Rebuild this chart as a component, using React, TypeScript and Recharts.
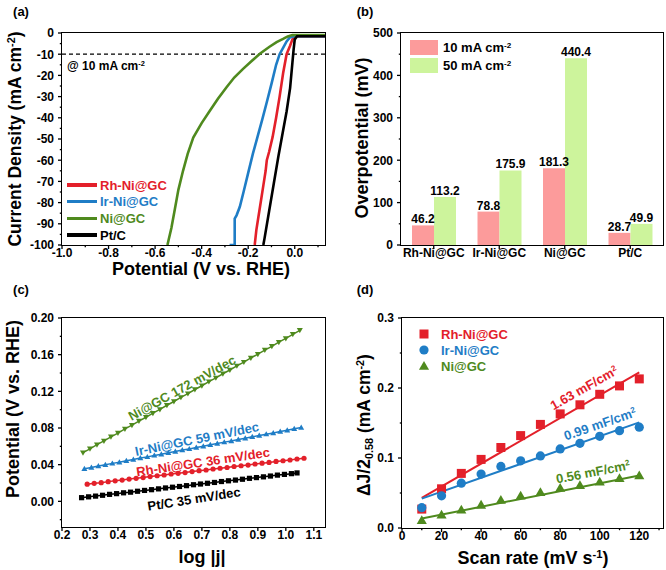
import React from 'react';
import {
  LineChart, Line, XAxis, YAxis, ReferenceLine,
  BarChart, Bar, LabelList, ScatterChart, Scatter,
} from 'recharts';

const FONT = '"Liberation Sans", Arial, Helvetica, sans-serif';
const RED = '#e3202a';
const BLUE = '#1f7dc6';
const GREEN = '#4f8a1e';
const BLACK = '#000000';
const PINK = '#fc9b9b';
const LIME = '#cdf49c';

// (a) polarization curves: potential (V vs. RHE) / current density (mA cm-2)
const lsvRhV = [0.13, 0.0, -0.01, -0.02, -0.035, -0.05, -0.065, -0.08, -0.095, -0.11, -0.12, -0.125, -0.135, -0.145, -0.155, -0.165, -0.172];
const lsvRhJ = [-1.5, -1.5, -3, -6, -10, -19, -30, -40, -49, -56, -60, -65, -72, -79, -86, -93, -100];
const lsvIrV = [0.13, 0.0, -0.02, -0.035, -0.05, -0.065, -0.08, -0.1, -0.121, -0.14, -0.16, -0.18, -0.2, -0.22, -0.236, -0.25, -0.258, -0.258, -0.28];
const lsvIrJ = [-1.5, -1.5, -2, -4, -7, -10, -15, -24, -33, -41, -49, -57, -66, -75, -82, -86, -87.5, -100, -100];
const lsvNiV = [0.13, -0.01, -0.03, -0.05, -0.078, -0.11, -0.15, -0.185, -0.222, -0.26, -0.293, -0.33, -0.364, -0.4, -0.436, -0.46, -0.48, -0.5, -0.515, -0.53, -0.547];
const lsvNiJ = [-1.0, -1.0, -1.6, -2.8, -4.3, -6.6, -9.8, -13.2, -16.9, -21, -25.6, -31, -36.6, -42.5, -49.3, -57, -65, -74, -83, -92, -100];
const lsvPtV = [0.13, 0.01, 0.0, -0.005, -0.01, -0.02, -0.035, -0.05, -0.07, -0.09, -0.11, -0.13, -0.135];
const lsvPtJ = [-1.5, -1.5, -3, -8, -14, -26, -37, -46, -58, -71, -84, -97, -100];
const aXMajor = [-1.0, -0.8, -0.6, -0.4, -0.2, 0.0];
const aXMinor = [-0.9, -0.7, -0.5, -0.3, -0.1, 0.1];
const aYMajor = [0, -10, -20, -30, -40, -50, -60, -70, -80, -90, -100];
const aYMinor = [-5, -15, -25, -35, -45, -55, -65, -75, -85, -95];

// (b) overpotentials (mV)
const catalysts = ['Rh-Ni@GC', 'Ir-Ni@GC', 'Ni@GC', 'Pt/C'];
const eta10 = [46.2, 78.8, 181.3, 28.7];
const eta50 = [113.2, 175.9, 440.4, 49.9];
const bYMajor = [0, 100, 200, 300, 400, 500];
const bYMinor = [50, 150, 250, 350, 450];

// (c) Tafel plots: log|j| / potential (V)
const tafPtX = [0.27, 0.295, 0.32, 0.345, 0.37, 0.395, 0.42, 0.445, 0.47, 0.495, 0.52, 0.545, 0.57, 0.595, 0.62, 0.645, 0.67, 0.695, 0.72, 0.745, 0.77, 0.795, 0.82, 0.845, 0.87, 0.895, 0.92, 0.945, 0.97, 0.995, 1.02, 1.04];
const tafPtY = [0.0040, 0.0049, 0.0057, 0.0066, 0.0076, 0.0084, 0.0093, 0.0100, 0.0110, 0.0119, 0.0127, 0.0136, 0.0146, 0.0154, 0.0162, 0.0171, 0.0181, 0.0189, 0.0197, 0.0206, 0.0216, 0.0224, 0.0232, 0.0241, 0.0251, 0.0259, 0.0267, 0.0276, 0.0286, 0.0294, 0.0302, 0.0310];
const tafRhX = [0.29, 0.315, 0.34, 0.365, 0.39, 0.415, 0.44, 0.465, 0.49, 0.515, 0.54, 0.565, 0.59, 0.615, 0.64, 0.665, 0.69, 0.715, 0.74, 0.765, 0.79, 0.815, 0.84, 0.865, 0.89, 0.915, 0.94, 0.965, 0.99, 1.015, 1.04, 1.065];
const tafRhY = [0.0187, 0.0196, 0.0204, 0.0215, 0.0224, 0.0232, 0.0243, 0.0251, 0.0259, 0.0270, 0.0279, 0.0287, 0.0298, 0.0306, 0.0314, 0.0325, 0.0334, 0.0342, 0.0353, 0.0361, 0.0369, 0.0380, 0.0388, 0.0396, 0.0407, 0.0416, 0.0424, 0.0435, 0.0443, 0.0451, 0.0462, 0.0470];
const tafIrX = [0.28, 0.305, 0.33, 0.355, 0.38, 0.405, 0.43, 0.455, 0.48, 0.505, 0.53, 0.555, 0.58, 0.605, 0.63, 0.655, 0.68, 0.705, 0.73, 0.755, 0.78, 0.805, 0.83, 0.855, 0.88, 0.905, 0.93, 0.955, 0.98, 1.005, 1.03, 1.055];
const tafIrY = [0.0355, 0.0369, 0.0385, 0.0398, 0.0414, 0.0427, 0.0443, 0.0456, 0.0472, 0.0485, 0.0501, 0.0514, 0.0530, 0.0543, 0.0559, 0.0572, 0.0588, 0.0601, 0.0617, 0.0630, 0.0646, 0.0659, 0.0675, 0.0688, 0.0704, 0.0717, 0.0733, 0.0746, 0.0762, 0.0775, 0.0791, 0.0805];
const tafNiX = [0.275, 0.3, 0.325, 0.35, 0.375, 0.4, 0.425, 0.45, 0.475, 0.5, 0.525, 0.55, 0.575, 0.6, 0.625, 0.65, 0.675, 0.7, 0.725, 0.75, 0.775, 0.8, 0.825, 0.85, 0.875, 0.9, 0.925, 0.95, 0.975, 1.0, 1.025, 1.05];
const tafNiY = [0.0531, 0.0573, 0.0618, 0.0659, 0.0704, 0.0745, 0.0790, 0.0831, 0.0876, 0.0917, 0.0962, 0.1003, 0.1048, 0.1089, 0.1134, 0.1175, 0.1220, 0.1261, 0.1306, 0.1347, 0.1392, 0.1433, 0.1478, 0.1519, 0.1564, 0.1605, 0.1650, 0.1691, 0.1736, 0.1777, 0.1822, 0.1866];
const cXMajor = [0.2, 0.3, 0.4, 0.5, 0.6, 0.7, 0.8, 0.9, 1.0, 1.1];
const cYMajor = [0.0, 0.04, 0.08, 0.12, 0.16, 0.2];
const cYMinor = [-0.02, 0.02, 0.06, 0.1, 0.14, 0.18];

// (d) double-layer capacitance: scan rate (mV/s) / half current difference (mA cm-2)
const scanRate = [10, 20, 30, 40, 50, 60, 70, 80, 90, 100, 110, 120];
const cdlRh = [0.027, 0.056, 0.078, 0.098, 0.115, 0.132, 0.148, 0.163, 0.176, 0.191, 0.203, 0.213];
const cdlIr = [0.029, 0.046, 0.064, 0.077, 0.088, 0.096, 0.103, 0.113, 0.121, 0.131, 0.139, 0.144];
const cdlNi = [0.011, 0.019, 0.026, 0.033, 0.040, 0.046, 0.051, 0.057, 0.061, 0.066, 0.071, 0.075];
// linear fits, slope = Cdl (1.63 / 0.99 / 0.56 mF cm-2)
const fitRh = [[10, 0.0430], [120, 0.2223]];
const fitIr = [[10, 0.0420], [120, 0.1509]];
const fitNi = [[10, 0.0135], [120, 0.0751]];
const dXMajor = [0, 20, 40, 60, 80, 100, 120];
const dXMinor = [10, 30, 50, 70, 90, 110, 130];
const dYMajor = [0, 0.1, 0.2, 0.3];
const dYMinor = [0.05, 0.15, 0.25];

const pts = (xs: number[], ys: number[]) => xs.map((x, i) => ({ x, y: ys[i] }));

const W = 333;
const H = 285;
const TS = 4;   // major tick
const MS = 2.2; // minor tick
const TM = 4;   // tick to label gap
const tickStyle: React.CSSProperties = { fontFamily: FONT, fontSize: 12, fontWeight: 700, fill: '#000' };

const isIn = (list: number[], v: number) => list.some((m) => Math.abs(m - v) < 1e-9);

const leftTick = (majors: number[], fmt: (v: number) => string) => (p: any) => {
  const v = Number(p.payload.value);
  const major = isIn(majors, v);
  const x0 = p.x + TS + TM;
  return (
    <g>
      <line x1={x0} x2={x0 - (major ? TS : MS)} y1={p.y} y2={p.y} stroke="#000" strokeWidth={1.3} />
      {major && (
        <text x={p.x} y={p.y} dy="0.36em" textAnchor="end" style={tickStyle}>{fmt(v)}</text>
      )}
    </g>
  );
};

const bottomTick = (majors: number[] | null, fmt: (v: any) => string) => (p: any) => {
  const v = p.payload.value;
  const major = majors === null || isIn(majors, Number(v));
  const y0 = p.y - TS - TM;
  return (
    <g>
      <line x1={p.x} x2={p.x} y1={y0} y2={y0 + (major ? TS : MS)} stroke="#000" strokeWidth={1.3} />
      {major && (
        <text x={p.x} y={y0 + 12} textAnchor="middle" style={tickStyle}>{fmt(v)}</text>
      )}
    </g>
  );
};

const Frame = ({ l, t, r, b }: { l: number; t: number; r: number; b: number }) => (
  <div
    style={{
      position: 'absolute', left: l - 0.7, top: t - 0.7, width: r - l + 1.4, height: b - t + 1.4,
      border: '1.4px solid #000', boxSizing: 'border-box', pointerEvents: 'none',
    }}
  />
);

const Txt = ({ x, y, angle = 0, color = '#000', size = 13, weight = 700, anchor = 'center', children }: any) => (
  <div
    style={{
      position: 'absolute', left: x, top: y,
      transform: `translate(${anchor === 'left' ? '0' : '-50%'}, -50%) rotate(${angle}deg)`,
      color, fontFamily: FONT, fontSize: size, fontWeight: weight, whiteSpace: 'nowrap', lineHeight: 1,
    }}
  >
    {children}
  </div>
);

const Sup = ({ children }: any) => (
  <span style={{ fontSize: '0.62em', verticalAlign: '0.55em' }}>{children}</span>
);
const Sub = ({ children }: any) => (
  <span style={{ fontSize: '0.62em', verticalAlign: '-0.3em' }}>{children}</span>
);

const panelBox = (left: number, top: number): React.CSSProperties => ({
  position: 'absolute', left, top, width: W, height: H,
});

function PanelA() {
  const plot = { l: 62, t: 33, r: 325, b: 245 };
  const series = [
    { name: 'Rh-Ni@GC', color: RED, data: pts(lsvRhV, lsvRhJ) },
    { name: 'Ir-Ni@GC', color: BLUE, data: pts(lsvIrV, lsvIrJ) },
    { name: 'Ni@GC', color: GREEN, data: pts(lsvNiV, lsvNiJ) },
    { name: 'Pt/C', color: BLACK, data: pts(lsvPtV, lsvPtJ) },
  ];
  return (
    <div style={panelBox(0, 0)}>
      <LineChart width={W} height={H} margin={{ top: plot.t, right: W - plot.r, bottom: H - plot.b - 22, left: plot.l - 40 }}>
        <XAxis
          dataKey="x" type="number" domain={[-1, 0.13]} allowDataOverflow
          ticks={[...aXMajor, ...aXMinor]} interval={0} height={22}
          axisLine={false} tickLine={false} tickSize={TS} tickMargin={TM}
          tick={bottomTick(aXMajor, (v) => Number(v).toFixed(1))}
        />
        <YAxis
          dataKey="y" type="number" domain={[-100, 0]} allowDataOverflow
          ticks={[...aYMajor, ...aYMinor]} interval={0} width={40}
          axisLine={false} tickLine={false} tickSize={TS} tickMargin={TM}
          tick={leftTick(aYMajor, (v) => String(v))}
        />
        <ReferenceLine y={-10} stroke="#000" strokeWidth={1.2} strokeDasharray="4 3" />
        {series.map((s) => (
          <Line
            key={s.name} data={s.data} dataKey="y" name={s.name} type="linear"
            stroke={s.color} strokeWidth={2.6} dot={false} isAnimationActive={false}
          />
        ))}
      </LineChart>
      <Frame {...plot} />
      <Txt x={67} y={66} size={12} anchor="left">@ 10 mA cm<Sup>-2</Sup></Txt>
      {series.map((s, i) => (
        <div key={s.name} style={{ position: 'absolute', left: 67, top: 185 + i * 16.7 - 8, height: 16, display: 'flex', alignItems: 'center' }}>
          <div style={{ width: 30, height: 3.5, background: s.color }} />
          <span style={{ marginLeft: 3, color: s.color, fontFamily: FONT, fontWeight: 700, fontSize: 13 }}>{s.name}</span>
        </div>
      ))}
      <Txt x={21} y={11} size={13}>(a)</Txt>
      <Txt x={15} y={139} size={17.5} angle={-90}>Current Density (mA cm<Sup>-2</Sup>)</Txt>
      <Txt x={201} y={269} size={18}>Potential (V vs. RHE)</Txt>
    </div>
  );
}

function PanelB() {
  const plot = { l: 68, t: 33, r: 330, b: 245 };
  const data = catalysts.map((name, i) => ({ name, eta10: eta10[i], eta50: eta50[i] }));
  const lbl = { fontFamily: FONT, fontSize: 12, fontWeight: 700, fill: '#000' };
  return (
    <div style={panelBox(333, 0)}>
      <BarChart
        width={W} height={H} data={data} barSize={22} barGap={0}
        margin={{ top: plot.t, right: W - plot.r, bottom: H - plot.b - 22, left: plot.l - 40 }}
      >
        <XAxis
          dataKey="name" height={22} axisLine={false} tickLine={false} interval={0}
          tickSize={TS} tickMargin={TM} tick={bottomTick(null, (v) => String(v))}
        />
        <YAxis
          type="number" domain={[0, 500]} allowDataOverflow ticks={[...bYMajor, ...bYMinor]} interval={0}
          width={40} axisLine={false} tickLine={false} tickSize={TS} tickMargin={TM}
          tick={leftTick(bYMajor, (v) => String(v))}
        />
        <Bar dataKey="eta10" fill={PINK} isAnimationActive={false}>
          <LabelList dataKey="eta10" position="top" offset={2} style={lbl} formatter={(v: any) => Number(v).toFixed(1)} />
        </Bar>
        <Bar dataKey="eta50" fill={LIME} isAnimationActive={false}>
          <LabelList dataKey="eta50" position="top" offset={2} style={lbl} formatter={(v: any) => Number(v).toFixed(1)} />
        </Bar>
      </BarChart>
      <Frame {...plot} />
      {[{ c: PINK, t: '10' }, { c: LIME, t: '50' }].map((e, i) => (
        <div key={e.t} style={{ position: 'absolute', left: 77, top: 40 + i * 18, height: 15, display: 'flex', alignItems: 'center' }}>
          <div style={{ width: 28, height: 15, background: e.c }} />
          <span style={{ marginLeft: 5, fontFamily: FONT, fontWeight: 700, fontSize: 13, color: '#000' }}>
            {e.t} mA cm<Sup>-2</Sup>
          </span>
        </div>
      ))}
      <Txt x={32} y={11} size={13}>(b)</Txt>
      <Txt x={29} y={138} size={18} angle={-90}>Overpotential (mV)</Txt>
    </div>
  );
}

const marker = (kind: string, color: string, r: number) => (p: any) => {
  const { cx, cy, index } = p;
  if (cx == null || cy == null) return <g key={index} />;
  if (kind === 'square') return <rect key={index} x={cx - r} y={cy - r} width={2 * r} height={2 * r} fill={color} />;
  if (kind === 'circle') return <circle key={index} cx={cx} cy={cy} r={r} fill={color} />;
  if (kind === 'up') return <polygon key={index} points={`${cx},${cy - r * 1.15} ${cx - r * 1.15},${cy + r * 0.85} ${cx + r * 1.15},${cy + r * 0.85}`} fill={color} />;
  return <polygon key={index} points={`${cx},${cy + r * 1.15} ${cx - r * 1.15},${cy - r * 0.85} ${cx + r * 1.15},${cy - r * 0.85}`} fill={color} />;
};

function PanelC() {
  const plot = { l: 62, t: 33, r: 325, b: 242 };
  const series = [
    { name: 'Pt/C', color: BLACK, kind: 'square', data: pts(tafPtX, tafPtY) },
    { name: 'Rh-Ni@GC', color: RED, kind: 'circle', data: pts(tafRhX, tafRhY) },
    { name: 'Ir-Ni@GC', color: BLUE, kind: 'up', data: pts(tafIrX, tafIrY) },
    { name: 'Ni@GC', color: GREEN, kind: 'down', data: pts(tafNiX, tafNiY) },
  ];
  return (
    <div style={panelBox(0, 285)}>
      <LineChart width={W} height={H} margin={{ top: plot.t, right: W - plot.r, bottom: H - plot.b - 22, left: plot.l - 40 }}>
        <XAxis
          dataKey="x" type="number" domain={[0.2, 1.14]} allowDataOverflow ticks={cXMajor} interval={0} height={22}
          axisLine={false} tickLine={false} tickSize={TS} tickMargin={TM}
          tick={bottomTick(cXMajor, (v) => Number(v).toFixed(1))}
        />
        <YAxis
          dataKey="y" type="number" domain={[-0.028, 0.2]} allowDataOverflow ticks={[...cYMajor, ...cYMinor]} interval={0}
          width={40} axisLine={false} tickLine={false} tickSize={TS} tickMargin={TM}
          tick={leftTick(cYMajor, (v) => Number(v).toFixed(2))}
        />
        {series.map((s) => (
          <Line
            key={s.name} data={s.data} dataKey="y" name={s.name} type="linear" stroke={s.color}
            strokeWidth={1.5} dot={marker(s.kind, s.color, 2.6)} isAnimationActive={false}
          />
        ))}
      </LineChart>
      <Frame {...plot} />
      <Txt x={182} y={103} angle={-29} color={GREEN}>Ni@GC 172 mV/dec</Txt>
      <Txt x={197} y={154} angle={-11.5} color={BLUE}>Ir-Ni@GC 59 mV/dec</Txt>
      <Txt x={203} y={177} angle={-8.5} color={RED}>Rh-Ni@GC 36 mV/dec</Txt>
      <Txt x={194} y={214} angle={-9} color={BLACK}>Pt/C 35 mV/dec</Txt>
      <Txt x={21} y={4} size={13}>(c)</Txt>
      <Txt x={13} y={124} size={18} angle={-90}>Potential (V vs. RHE)</Txt>
      <Txt x={202} y={272} size={18}>log |j|</Txt>
    </div>
  );
}

function PanelD() {
  const plot = { l: 69, t: 33, r: 330, b: 243 };
  const series = [
    { name: 'Rh-Ni@GC', color: RED, kind: 'square', r: 4.5, data: pts(scanRate, cdlRh), fit: fitRh },
    { name: 'Ir-Ni@GC', color: BLUE, kind: 'circle', r: 4.6, data: pts(scanRate, cdlIr), fit: fitIr },
    { name: 'Ni@GC', color: GREEN, kind: 'up', r: 4.4, data: pts(scanRate, cdlNi), fit: fitNi },
  ];
  return (
    <div style={panelBox(333, 285)}>
      <ScatterChart width={W} height={H} margin={{ top: plot.t, right: W - plot.r, bottom: H - plot.b - 22, left: plot.l - 40 }}>
        <XAxis
          dataKey="x" type="number" domain={[0, 132]} allowDataOverflow ticks={[...dXMajor, ...dXMinor]} interval={0}
          height={22} axisLine={false} tickLine={false} tickSize={TS} tickMargin={TM}
          tick={bottomTick(dXMajor, (v) => String(v))}
        />
        <YAxis
          dataKey="y" type="number" domain={[0, 0.3]} allowDataOverflow ticks={[...dYMajor, ...dYMinor]} interval={0}
          width={40} axisLine={false} tickLine={false} tickSize={TS} tickMargin={TM}
          tick={leftTick(dYMajor, (v) => Number(v).toFixed(1))}
        />
        {series.map((s) => (
          <Scatter
            key={s.name} name={s.name} data={s.data} fill={s.color}
            shape={marker(s.kind, s.color, s.r)} isAnimationActive={false}
          />
        ))}
        {series.map((s) => (
          <ReferenceLine
            key={`fit-${s.name}`} stroke={s.color} strokeWidth={2}
            segment={[{ x: s.fit[0][0], y: s.fit[0][1] }, { x: s.fit[1][0], y: s.fit[1][1] }]}
          />
        ))}
      </ScatterChart>
      <Frame {...plot} />
      {series.map((s, i) => (
        <div key={s.name} style={{ position: 'absolute', left: 85, top: 49 + i * 16 - 8, height: 16, display: 'flex', alignItems: 'center' }}>
          <svg width={12} height={12}>{marker(s.kind, s.color, s.r)({ cx: 6, cy: 6, index: 0 })}</svg>
          <span style={{ marginLeft: 11, color: s.color, fontFamily: FONT, fontWeight: 700, fontSize: 13 }}>{s.name}</span>
        </div>
      ))}
      <Txt x={251} y={103} angle={-29.5} color={RED}>1.63 mF/cm<Sup>2</Sup></Txt>
      <Txt x={267} y={139} angle={-19} color={BLUE}>0.99 mF/cm<Sup>2</Sup></Txt>
      <Txt x={260} y={187} angle={-11} color={GREEN}>0.56 mF/cm<Sup>2</Sup></Txt>
      <Txt x={32} y={4} size={13}>(d)</Txt>
      <Txt x={32} y={140} size={17.5} angle={-90}>ΔJ/2<Sub>0.58</Sub> (mA cm<Sup>-2</Sup>)</Txt>
      <Txt x={200} y={273} size={18}>Scan rate (mV s<Sup>-1</Sup>)</Txt>
    </div>
  );
}

export default function App() {
  return (
    <div style={{ position: 'absolute', left: 0, top: 0, width: 666, height: 570, background: '#fff', overflow: 'hidden' }}>
      <PanelA />
      <PanelB />
      <PanelC />
      <PanelD />
    </div>
  );
}
